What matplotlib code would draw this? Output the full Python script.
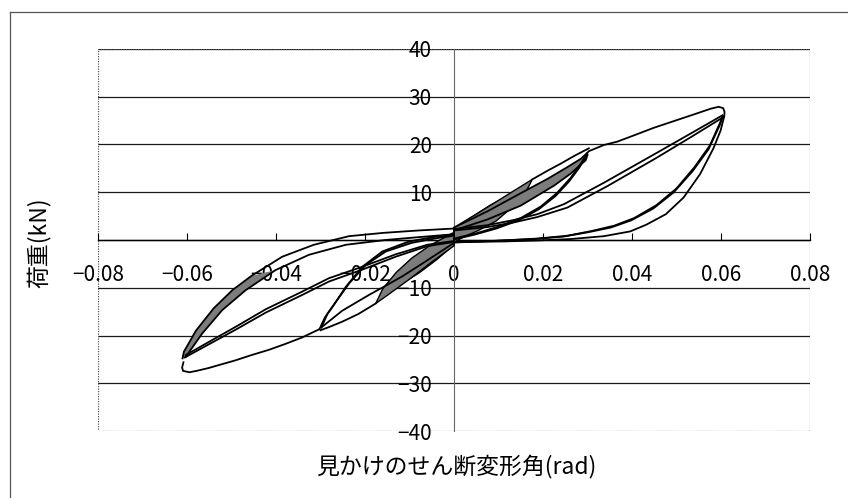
import numpy as np
import matplotlib
matplotlib.use('Agg')
import matplotlib.pyplot as plt
from matplotlib.patches import Rectangle
from matplotlib.lines import Line2D

plt.rcParams['font.family'] = ['Noto Sans CJK JP', 'DejaVu Sans']

# axis ticks
x_ticks = [-0.08, -0.06, -0.04, -0.02, 0.0, 0.02, 0.04, 0.06, 0.08]
x_tick_labels = ['−0.08', '−0.06', '−0.04', '−0.02', '0', '0.02', '0.04', '0.06', '0.08']
y_ticks = [-40, -30, -20, -10, 10, 20, 30, 40]
y_tick_labels = ['−40', '−30', '−20', '−10', '10', '20', '30', '40']
grid_levels = [-30, -20, -10, 0, 10, 20, 30, 40]

# ---- positive side, 1/15 cycles ----
p60_env_x = [0.0303, 0.0337, 0.0367, 0.0404, 0.0449, 0.0494, 0.0539, 0.0577, 0.0595, 0.0605, 0.0608, 0.0607]
p60_env_y = [18.6, 19.9, 20.6, 21.9, 23.5, 24.9, 26.3, 27.5, 27.9, 27.6, 26.8, 25.8]
p60_unl1_x = [0.0607, 0.0599, 0.0583, 0.0553, 0.0516, 0.0476, 0.0432, 0.0396, 0.0337, 0.0262, 0.0187, 0.0112, 0.0040, 0.0]
p60_unl1_y = [25.8, 22.9, 19.2, 13.8, 8.9, 5.4, 3.2, 1.8, 0.8, 0.2, -0.1, -0.3, -0.4, -0.5]
p60_unl2_x = [0.0604, 0.0599, 0.0575, 0.0540, 0.0500, 0.0455, 0.0405, 0.0360, 0.0310, 0.0255, 0.0187, 0.0090, 0.0]
p60_unl2_y = [26.0, 24.8, 19.8, 15.2, 10.8, 7.3, 4.6, 3.0, 1.9, 0.9, 0.3, -0.2, -0.5]
p60_unl3_x = [0.0603, 0.0597, 0.0572, 0.0536, 0.0494, 0.0448, 0.0398, 0.0352, 0.0300, 0.0245, 0.0180, 0.0085, 0.0]
p60_unl3_y = [25.6, 24.0, 19.0, 14.4, 10.0, 6.6, 4.1, 2.6, 1.6, 0.7, 0.2, -0.2, -0.4]
p60_rel1_x = [0.0, 0.0075, 0.0135, 0.0187, 0.0247, 0.0337, 0.0449, 0.0530, 0.0603]
p60_rel1_y = [2.3, 3.1, 4.2, 5.4, 7.5, 12.0, 17.9, 22.2, 26.1]
p60_rel2_x = [0.0, 0.0075, 0.0135, 0.0187, 0.0255, 0.0345, 0.0455, 0.0535, 0.0603]
p60_rel2_y = [2.0, 2.7, 3.7, 4.8, 6.8, 11.3, 17.2, 21.7, 25.6]

# ---- positive side, 1/30 cycles ----
p30_env_x = [0.0176, 0.0210, 0.0240, 0.0270, 0.0303]
p30_env_y = [12.7, 14.5, 16.0, 17.6, 19.2]
p30_unl1_x = [0.0300, 0.0285, 0.0262, 0.0232, 0.0195, 0.0150, 0.0100, 0.0050, 0.0]
p30_unl1_y = [18.3, 16.0, 13.0, 9.9, 7.0, 4.6, 2.8, 1.4, 0.3]
p30_unl2_x = [0.0298, 0.0282, 0.0258, 0.0228, 0.0190, 0.0145, 0.0095, 0.0045, 0.0]
p30_unl2_y = [17.8, 15.2, 12.2, 9.2, 6.4, 4.1, 2.4, 1.1, 0.1]
p30_rel1_x = [0.0, 0.0075, 0.0150, 0.0210, 0.0250, 0.0285, 0.0300]
p30_rel1_y = [2.6, 6.0, 9.8, 12.8, 15.0, 17.0, 18.3]
p30_rel2_x = [0.0, 0.0075, 0.0150, 0.0225, 0.0262, 0.0296, 0.0300]
p30_rel2_y = [2.0, 4.3, 7.2, 11.4, 13.9, 16.7, 17.8]

# ---- negative side, 1/15 cycles ----
n60_env_x = [-0.0303, -0.0341, -0.0380, -0.0416, -0.0455, -0.0491, -0.0525, -0.0551, -0.0578, -0.0595, -0.0609, -0.0611, -0.0608]
n60_env_y = [-18.7, -20.4, -21.8, -23.0, -24.1, -25.2, -26.1, -26.8, -27.4, -27.7, -27.4, -26.7, -25.6]
n60_unl1_x = [-0.0610, -0.0607, -0.0580, -0.0540, -0.0498, -0.0455, -0.0410, -0.0386, -0.0315, -0.0236, -0.0158, -0.0079, 0.0]
n60_unl1_y = [-24.8, -23.4, -19.0, -14.3, -10.5, -7.5, -4.9, -3.5, -1.0, 0.8, 1.5, 2.0, 2.4]
n60_unl2_x = [-0.0603, -0.0566, -0.0521, -0.0468, -0.0401, -0.0326, -0.0243, -0.0154, -0.0079, 0.0]
n60_unl2_y = [-24.5, -19.6, -14.7, -10.5, -6.3, -3.1, -1.0, 0.0, 0.6, 1.2]
n60_rel1_x = [0.0, -0.0060, -0.0131, -0.0206, -0.0281, -0.0341, -0.0423, -0.0491, -0.0550, -0.0603]
n60_rel1_y = [-0.2, -1.0, -3.0, -5.6, -8.0, -10.8, -14.5, -18.2, -21.3, -24.1]
n60_rel2_x = [0.0, -0.0060, -0.0131, -0.0206, -0.0281, -0.0341, -0.0423, -0.0491, -0.0550, -0.0605]
n60_rel2_y = [-0.4, -1.3, -3.5, -6.2, -8.7, -11.5, -15.2, -18.8, -21.8, -24.6]

# ---- negative side, 1/30 cycles ----
n30_env_x = [-0.0176, -0.0215, -0.0251, -0.0280, -0.0300]
n30_env_y = [-13.3, -15.5, -17.1, -18.2, -18.9]
n30_unl1_x = [-0.0302, -0.0290, -0.0273, -0.0243, -0.0206, -0.0161, -0.0101, -0.0041, 0.0]
n30_unl1_y = [-18.6, -16.2, -14.0, -9.8, -5.6, -2.4, -0.3, 0.7, 1.2]
n30_unl2_x = [-0.0298, -0.0284, -0.0265, -0.0235, -0.0198, -0.0153, -0.0095, -0.0038, 0.0]
n30_unl2_y = [-18.3, -15.4, -12.9, -9.0, -5.2, -2.4, -0.6, 0.4, 0.9]
n30_rel_x = [0.0, -0.0064, -0.0116, -0.0154, -0.0191, -0.0251, -0.0298]
n30_rel_y = [-0.6, -4.5, -7.6, -9.6, -11.5, -14.8, -18.3]

# ---- small cycles (1/450 .. 1/60): loading and unloading branches ----
sp_up_x = [[0.0, 0.0020, 0.0040],
           [0.0, 0.0030, 0.0060, 0.0079],
           [0.0, 0.0040, 0.0080, 0.0116],
           [0.0, 0.0050, 0.0100, 0.0150, 0.0176]]
sp_up_y = [[2.0, 3.0, 4.2],
           [2.2, 4.0, 5.8, 6.8],
           [2.4, 4.8, 7.2, 9.0],
           [2.6, 5.4, 8.3, 11.2, 12.7]]
sp_lo_x = [[0.0040, 0.0025, 0.0010, 0.0],
           [0.0079, 0.0060, 0.0035, 0.0012, 0.0],
           [0.0116, 0.0095, 0.0065, 0.0035, 0.0],
           [0.0176, 0.0160, 0.0130, 0.0095, 0.0055, 0.0020, 0.0]]
sp_lo_y = [[4.2, 2.0, 0.5, -0.4],
           [6.8, 4.2, 2.0, 0.4, -0.4],
           [9.0, 6.0, 3.4, 1.4, -0.4],
           [12.7, 9.8, 6.8, 4.0, 2.0, 0.6, -0.5]]
sn_up_x = [[-0.0040, -0.0025, -0.0010, 0.0],
           [-0.0079, -0.0060, -0.0035, -0.0012, 0.0],
           [-0.0116, -0.0095, -0.0065, -0.0035, 0.0],
           [-0.0176, -0.0160, -0.0130, -0.0095, -0.0055, -0.0020, 0.0]]
sn_up_y = [[-4.0, -1.8, 0.0, 1.0],
           [-6.6, -4.0, -1.4, 0.4, 1.2],
           [-9.0, -5.8, -2.8, -0.4, 1.4],
           [-13.3, -10.2, -6.8, -3.8, -1.2, 0.6, 1.6]]
sn_lo_x = [[0.0, -0.0020, -0.0040],
           [0.0, -0.0030, -0.0060, -0.0079],
           [0.0, -0.0040, -0.0080, -0.0116],
           [0.0, -0.0050, -0.0100, -0.0150, -0.0176]]
sn_lo_y = [[-0.8, -2.4, -4.0],
           [-1.0, -3.2, -5.4, -6.6],
           [-1.0, -4.2, -7.0, -9.0],
           [-1.2, -4.6, -8.2, -11.6, -13.3]]

fig = plt.figure(figsize=(8.48, 4.98), dpi=100)
ax = fig.add_axes([98 / 848, 1 - 431 / 498, 712 / 848, 382 / 498])
ax.set_xlim(-0.08, 0.08)
ax.set_ylim(-40, 40)

# outer chart-area frame (left and top edge only)
fig.add_artist(Line2D([10 / 848, 10 / 848], [0, 1 - 12 / 498], color='#555555', lw=0.9))
fig.add_artist(Line2D([10 / 848, 1], [1 - 12 / 498, 1 - 12 / 498], color='#555555', lw=0.9))

# horizontal gridlines
for g in grid_levels:
    ax.axhline(g, color='#1a1a1a', lw=0.9, zorder=1)

# plot-area border
ax.add_patch(Rectangle((0, 0), 1, 1, transform=ax.transAxes, fill=False,
                       ec='#555555', lw=0.9, ls=(0, (1, 1)), zorder=1))

# axes crossing at the origin
for s in ['top', 'right']:
    ax.spines[s].set_visible(False)
ax.spines['bottom'].set_position(('data', 0))
ax.spines['left'].set_position(('data', 0))
ax.spines['bottom'].set_color('black')
ax.spines['bottom'].set_linewidth(1.0)
ax.spines['left'].set_color('#666666')
ax.spines['left'].set_linewidth(0.8)
ax.spines['left'].set_linestyle((0, (2, 1)))

ax.set_xticks(x_ticks)
ax.set_xticklabels(x_tick_labels)
ax.set_yticks(y_ticks)
ax.set_yticklabels(y_tick_labels)
ax.tick_params(axis='x', direction='in', length=5, width=0.8, pad=17, labelsize=15)
ax.tick_params(axis='y', length=0, pad=16, labelsize=15)

lc = 'black'
lw = 1.3
gray = '#7c7c7c'

# small cycles as filled lenses
for ux, uy, lx, ly in zip(sp_up_x, sp_up_y, sp_lo_x, sp_lo_y):
    ax.fill(np.concatenate([ux, lx]), np.concatenate([uy, ly]), fc=gray, ec=lc, lw=1.0, zorder=3)
for ux, uy, lx, ly in zip(sn_up_x, sn_up_y, sn_lo_x, sn_lo_y):
    ax.fill(np.concatenate([lx, ux]), np.concatenate([ly, uy]), fc=gray, ec=lc, lw=1.0, zorder=3)

# repeated 1/30 and 1/15 cycles form shaded bands
ax.fill(np.concatenate([p30_rel1_x, p30_rel2_x[::-1]]),
        np.concatenate([p30_rel1_y, p30_rel2_y[::-1]]), fc=gray, ec='none', zorder=3)
ax.fill(np.concatenate([n30_unl1_x, n30_unl2_x[::-1]]),
        np.concatenate([n30_unl1_y, n30_unl2_y[::-1]]), fc=gray, ec='none', zorder=3)
ax.fill(np.concatenate([n60_unl1_x[:6], n60_unl2_x[:5][::-1]]),
        np.concatenate([n60_unl1_y[:6], n60_unl2_y[:5][::-1]]), fc=gray, ec='none', zorder=3)

branches = [
    (p60_env_x, p60_env_y), (p60_unl1_x, p60_unl1_y), (p60_unl2_x, p60_unl2_y),
    (p60_unl3_x, p60_unl3_y), (p60_rel1_x, p60_rel1_y), (p60_rel2_x, p60_rel2_y),
    (p30_env_x, p30_env_y), (p30_unl1_x, p30_unl1_y), (p30_unl2_x, p30_unl2_y),
    (p30_rel1_x, p30_rel1_y), (p30_rel2_x, p30_rel2_y),
    (n60_env_x, n60_env_y), (n60_unl1_x, n60_unl1_y), (n60_unl2_x, n60_unl2_y),
    (n60_rel1_x, n60_rel1_y), (n60_rel2_x, n60_rel2_y),
    (n30_env_x, n30_env_y), (n30_unl1_x, n30_unl1_y), (n30_unl2_x, n30_unl2_y),
    (n30_rel_x, n30_rel_y),
]
for bx, by in branches:
    ax.plot(bx, by, color=lc, lw=lw, solid_joinstyle='round', zorder=4)

fig.text(456 / 848, 1 - 467 / 498, '見かけのせん断変形角(rad)', ha='center', va='center', fontsize=16.5)
fig.text(39 / 848, 1 - 243 / 498, '荷重(kN)', ha='center', va='center', rotation=90, fontsize=16.5)

fig.savefig('out.png', dpi=100)
